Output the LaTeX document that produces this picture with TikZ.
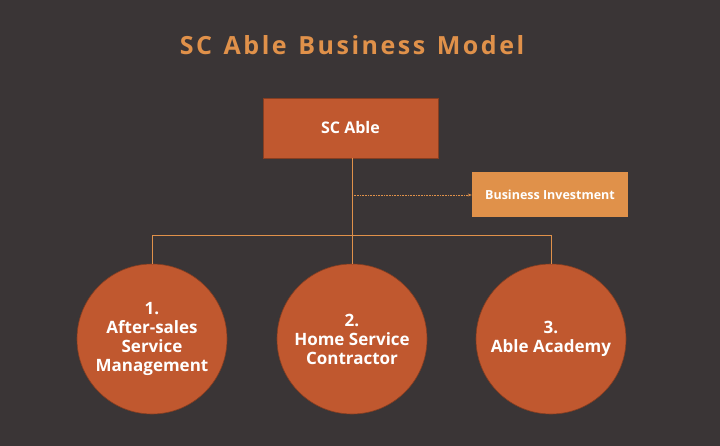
\documentclass[tikz,border=0pt]{standalone}
\usepackage{fontspec}
\setmainfont{Open Sans}
\newfontfamily\titlefont[LetterSpace=10,WordSpace=1.3]{Open Sans}
\usetikzlibrary{arrows.meta}
\definecolor{bg}{HTML}{3A3536}
\definecolor{rust}{HTML}{C0582F}
\definecolor{gold}{HTML}{E0914A}
\begin{document}
\begin{tikzpicture}[x=1pt,y=-1pt,
  box/.style={fill=rust,draw=rust!70!black,line width=0.6pt,text=white,font=\bfseries\fontsize{16}{18}\selectfont},
  circ/.style={circle,fill=rust,draw=rust!70!black,line width=0.6pt,minimum size=150pt,inner sep=0pt,text=white,align=center,font=\bfseries\fontsize{17}{19}\selectfont},
  conn/.style={draw=gold,line width=0.6pt}]
\fill[bg] (0,0) rectangle (720,446);
\useasboundingbox (0,0) rectangle (720,446);
\node[text=gold,font=\titlefont\bfseries\fontsize{25}{28}\selectfont] (title) at (352,45) {SC Able Business Model};
\node[box,minimum width=175pt,minimum height=60pt] (top) at (350.5,128) {SC Able};
\node[fill=gold,text=white,minimum width=156pt,minimum height=45pt,font=\bfseries\fontsize{12.5}{14}\selectfont] (inv) at (550,194.5) {Business Investment};
\node[circ] (c1) at (152,339) {1.\\After-sales\\Service\\Management};
\node[circ] (c2) at (352,339) {2.\\Home Service\\Contractor};
\node[circ] (c3) at (551,339) {3.\\Able Academy};
\coordinate (j) at (352,235);
\coordinate (m) at (352,195);
\draw[conn] (top.south -| j) -- (j);
\draw[conn] (c1.north) -- (c1.north |- j) -- (c3.north |- j) -- (c3.north);
\draw[conn] (j) -- (c2.north);
\draw[conn,densely dotted,-{Stealth[length=4pt]}] (m) -- (inv.west |- m);
\end{tikzpicture}
\end{document}
